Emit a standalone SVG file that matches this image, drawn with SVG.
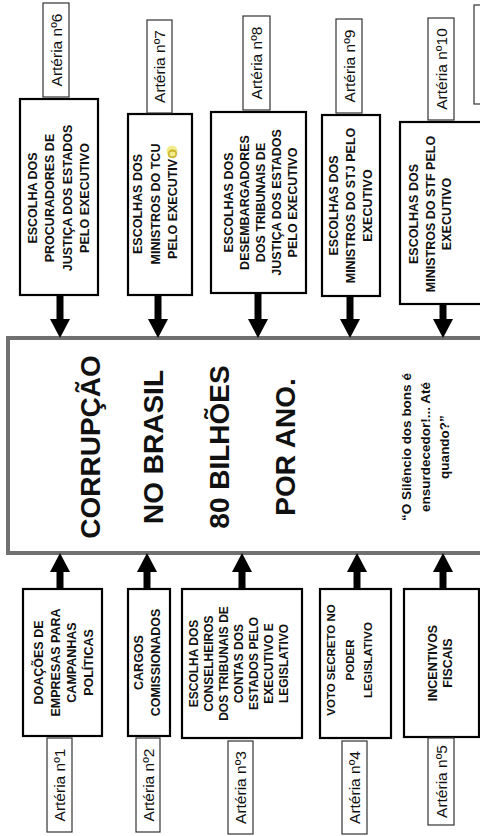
<svg xmlns="http://www.w3.org/2000/svg" width="480" height="836" viewBox="0 0 480 836">
<style>
.node{fill:#fff;stroke:#000;stroke-width:2.2}
.lab{fill:#fff;stroke:#333;stroke-width:1.2}
.center{fill:#fff;stroke:#707070;stroke-width:4}
.t{font-family:"Liberation Sans",Arial,sans-serif;font-weight:bold;font-size:12.5px;text-anchor:middle;fill:#111}
.s{font-size:12px}
.xs{font-size:11.5px}
.l{font-family:"Liberation Sans",Arial,sans-serif;font-size:15.5px;text-anchor:middle;fill:#111}
.big{font-family:"Liberation Sans",Arial,sans-serif;font-weight:bold;font-size:28px;text-anchor:middle;fill:#111}
.q{font-family:"Liberation Sans",Arial,sans-serif;font-weight:bold;font-size:13.5px;text-anchor:middle;fill:#111}
.arr{stroke:#000;stroke-width:7;fill:none;marker-end:url(#ah)}
</style>
<defs>
<marker id="ah" markerUnits="userSpaceOnUse" viewBox="0 0 19 20" refX="0" refY="10" markerWidth="19" markerHeight="20" orient="auto">
<path d="M0,0 L19,10 L0,20 Z" fill="#000"/>
</marker>
</defs>
<rect width="480" height="836" fill="#fff"/>

<g id="center">
<rect class="center" x="8" y="338" width="474" height="215"/>
<text class="big" transform="translate(100,447) rotate(-90)">CORRUPÇÃO</text>
<text class="big" transform="translate(163,447) rotate(-90)">NO BRASIL</text>
<text class="big" transform="translate(229,447) rotate(-90)">80 BILHÕES</text>
<text class="big" transform="translate(295,447) rotate(-90)">POR ANO.</text>
<text class="q" transform="translate(411,447) rotate(-90)"><tspan x="0" y="0">“O Silêncio dos bons é</tspan><tspan x="0" dy="19">ensurdecedor!...  Até</tspan><tspan x="0" dy="19">quando?”</tspan></text>
</g>

<g id="connectors">
<line class="arr" x1="60" y1="295" x2="60" y2="319"/>
<line class="arr" x1="158" y1="295" x2="158" y2="319"/>
<line class="arr" x1="258" y1="293" x2="258" y2="319"/>
<line class="arr" x1="350" y1="296" x2="350" y2="319"/>
<line class="arr" x1="443" y1="304" x2="443" y2="319"/>
<line class="arr" x1="60" y1="589" x2="60" y2="572"/>
<line class="arr" x1="147" y1="589" x2="147" y2="572"/>
<line class="arr" x1="242" y1="589" x2="242" y2="572"/>
<line class="arr" x1="357" y1="589" x2="357" y2="572"/>
<line class="arr" x1="443" y1="589" x2="443" y2="572"/>
</g>

<g id="n6">
<rect class="node" x="20" y="99" width="78" height="196"/>
<text class="t" transform="translate(37,198) rotate(-90)"><tspan x="0" y="0">ESCOLHA DOS</tspan><tspan x="0" dy="17.3">PROCURADORES DE</tspan><tspan x="0" dy="17.3">JUSTIÇA DOS ESTADOS</tspan><tspan x="0" dy="17.3">PELO EXECUTIVO</tspan></text>
<rect class="lab" x="43" y="3" width="26" height="94"/>
<text class="l" transform="translate(61.5,50) rotate(-90)">Artéria nº6</text>
</g>

<g id="n7">
<rect class="node" x="128" y="114" width="64" height="181"/>
<circle cx="172" cy="151" r="5.5" fill="#f2ec8c"/>
<text class="t" transform="translate(142,204) rotate(-90)"><tspan x="0" y="0">ESCOLHAS DOS</tspan><tspan x="0" dy="17.5">MINISTROS DO TCU</tspan><tspan x="0" dy="17.5">PELO EXECUTIV<tspan fill="#c9b52a">O</tspan></tspan></text>
<rect class="lab" x="147" y="20" width="25" height="93"/>
<text class="l" transform="translate(165,66.5) rotate(-90)">Artéria nº7</text>
</g>

<g id="n8">
<rect class="node" x="211" y="112" width="95" height="181"/>
<text class="t" transform="translate(233,202.5) rotate(-90)"><tspan x="0" y="0">ESCOLHAS DOS</tspan><tspan x="0" dy="16">DESEMBARGADORES</tspan><tspan x="0" dy="16">DOS TRIBUNAIS DE</tspan><tspan x="0" dy="16">JUSTIÇA DOS ESTADOS</tspan><tspan x="0" dy="16">PELO EXECUTIVO</tspan></text>
<rect class="lab" x="243" y="16" width="27" height="94"/>
<text class="l" transform="translate(262,63) rotate(-90)">Artéria nº8</text>
</g>

<g id="n9">
<rect class="node" x="322" y="115" width="58" height="181"/>
<text class="t" transform="translate(338,205.5) rotate(-90)"><tspan x="0" y="0">ESCOLHAS DOS</tspan><tspan x="0" dy="17">MINISTROS DO STJ PELO</tspan><tspan x="0" dy="17">EXECUTIVO</tspan></text>
<rect class="lab" x="336" y="19" width="26" height="94"/>
<text class="l" transform="translate(354.5,66) rotate(-90)">Artéria nº9</text>
</g>

<g id="n10">
<rect class="node" x="400" y="122" width="84" height="182"/>
<text class="t" transform="translate(418,214) rotate(-90)"><tspan x="0" y="0">ESCOLHAS DOS</tspan><tspan x="0" dy="17">MINISTROS DO STF PELO</tspan><tspan x="0" dy="16">EXECUTIVO</tspan></text>
<rect class="lab" x="428" y="18" width="26" height="102"/>
<text class="l" transform="translate(446.5,69) rotate(-90)">Artéria nº10</text>
</g>

<g id="n11">
<rect class="lab" x="474" y="5" width="20" height="99"/>
</g>

<g id="n1">
<rect class="node" x="23" y="589" width="79" height="147"/>
<text class="t" transform="translate(43,662.5) rotate(-90)"><tspan x="0" y="0">DOAÇÕES DE</tspan><tspan x="0" dy="16.7">EMPRESAS PARA</tspan><tspan x="0" dy="16.7">CAMPANHAS</tspan><tspan x="0" dy="16.7">POLÍTICAS</tspan></text>
<rect class="lab" x="47" y="738" width="25" height="94"/>
<text class="l" transform="translate(65,785) rotate(-90)">Artéria nº1</text>
</g>

<g id="n2">
<rect class="node" x="128" y="589" width="42" height="147"/>
<text class="t" transform="translate(143,662.5) rotate(-90)"><tspan x="0" y="0">CARGOS</tspan><tspan x="0" dy="17">COMISSIONADOS</tspan></text>
<rect class="lab" x="136" y="738" width="24" height="94"/>
<text class="l" transform="translate(153.5,785) rotate(-90)">Artéria nº2</text>
</g>

<g id="n3">
<rect class="node" x="182" y="589" width="120" height="149"/>
<text class="t s" transform="translate(198,663.5) rotate(-90)"><tspan x="0" y="0">ESCOLHA DOS</tspan><tspan x="0" dy="15">CONSELHEIROS</tspan><tspan x="0" dy="15">DOS TRIBUNAIS DE</tspan><tspan x="0" dy="15">CONTAS  DOS</tspan><tspan x="0" dy="15">ESTADOS PELO</tspan><tspan x="0" dy="15">EXECUTIVO E</tspan><tspan x="0" dy="15">LEGISLATIVO</tspan></text>
<rect class="lab" x="228" y="741" width="25" height="93"/>
<text class="l" transform="translate(246,787.5) rotate(-90)">Artéria nº3</text>
</g>

<g id="n4">
<rect class="node" x="320" y="589" width="71" height="149"/>
<text class="t xs" transform="translate(335,660) rotate(-90)"><tspan x="0" y="0">VOTO SECRETO NO</tspan><tspan x="0" dy="19">PODER</tspan><tspan x="0" dy="18">LEGISLATIVO</tspan></text>
<rect class="lab" x="342" y="741" width="25" height="93"/>
<text class="l" transform="translate(360,787.5) rotate(-90)">Artéria nº4</text>
</g>

<g id="n5">
<rect class="node" x="404" y="589" width="75" height="148"/>
<text class="t" transform="translate(437,663) rotate(-90)"><tspan x="0" y="0">INCENTIVOS</tspan><tspan x="0" dy="15">FISCAIS</tspan></text>
<rect class="lab" x="428" y="738" width="26" height="87"/>
<text class="l" transform="translate(446.5,781.5) rotate(-90)">Artéria nº5</text>
</g>
</svg>
